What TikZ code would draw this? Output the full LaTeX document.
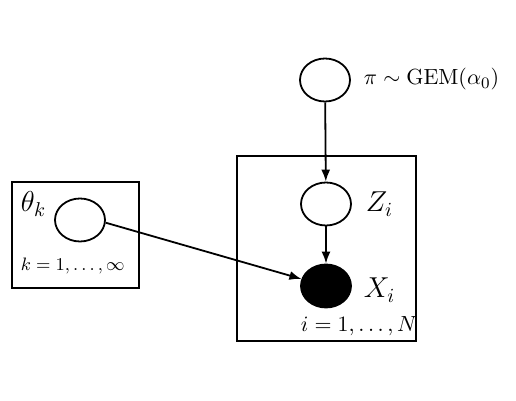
\documentclass[tikz,border=0pt]{standalone}
\usepackage{amsmath}
\usepackage{amssymb}
\usepackage{tikz}
\usetikzlibrary{shapes.geometric, arrows.meta}

\begin{document}
\begin{tikzpicture}[>={Latex[length=6pt,width=4.5pt]}, x=0.5pt, y=-0.5pt]
    \tikzstyle{latent} = [draw, line width=0.9pt, ellipse, minimum width=25pt,
	minimum height=21.5pt, inner sep=0pt]
    \tikzstyle{observed} = [latent, fill=black]
    \tikzstyle{plate} = [draw, line width=0.9pt]
    \tikzstyle{lbl} = [anchor=base west, inner sep=0pt]
    \useasboundingbox (0,0) rectangle (516,401);
    % plates
    \draw[plate] (12,182) rectangle (139,288);
    \draw[plate] (237,156) rectangle (416,341);
    \path[->, line width=0.9pt]
        node[latent] (pi) at (325,80) {}
        node[latent] (Z) at (326,204) {}
        node[observed] (X) at (326,286) {}
        node[latent] (theta) at (80,220) {}
        node[lbl] (pil) at (363,85) {\fontsize{11.3}{13}\selectfont $\pi \sim \mathrm{GEM}(\alpha_0)$}
        node[lbl] (Zl) at (365,212) {\Large $Z_i$}
        node[lbl] (Xl) at (363,298) {\Large $X_i$}
        node[lbl] (thetal) at (20,212) {\Large $\theta_k$}
        node[lbl] (kl) at (20,271) {\fontsize{9.4}{11}\selectfont $k=1,\ldots,\infty$}
        node[lbl] (il) at (300,332) {\fontsize{10.5}{12}\selectfont $i=1,\ldots,N$}
        (pi) edge (Z)
        (Z) edge (X)
        (theta.-6) edge (X) ;
\end{tikzpicture}
\end{document}
